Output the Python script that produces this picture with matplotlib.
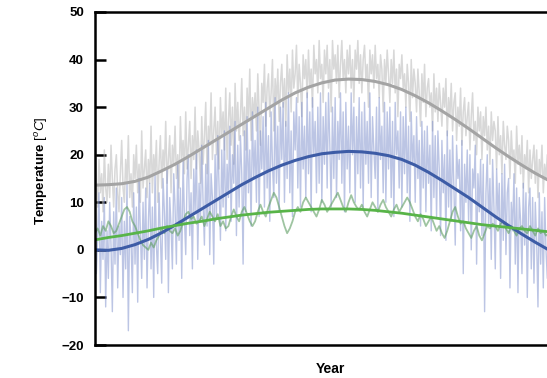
import numpy as np
import matplotlib.pyplot as plt

plt.rcParams['font.family'] = ['Liberation Sans', 'DejaVu Sans']
plt.rcParams['mathtext.fontset'] = 'custom'
plt.rcParams['mathtext.rm'] = 'Liberation Sans'
plt.rcParams['mathtext.it'] = 'Liberation Sans:italic'
plt.rcParams['mathtext.bf'] = 'Liberation Sans:bold'

# daily readings (day 0..364)
days = np.arange(0, 365)

gray_temp = [
    25, 14, 9, 19, 12, 16, 8, 21, 13, 10,
    18, 11, 22, 15, 9, 17, 20, 12, 8, 16,
    23, 13, 10, 19, 14, 24, 11, 16, 9, 20,
    15, 22, 12, 18, 10, 25, 13, 17, 21, 11,
    19, 14, 26, 12, 20, 16, 23, 10, 18, 24,
    13, 21, 17, 27, 14, 19, 24, 12, 22, 18,
    26, 15, 20, 13, 28, 19, 23, 16, 29, 17,
    22, 27, 15, 24, 19, 30, 17, 25, 21, 14,
    28, 18, 24, 31, 16, 26, 22, 33, 19, 25,
    30, 20, 27, 17, 32, 24, 29, 21, 34, 19,
    27, 33, 22, 30, 18, 35, 25, 31, 23, 28,
    36, 24, 30, 21, 34, 27, 38, 23, 32, 28,
    33, 25, 37, 29, 22, 35, 31, 39, 26, 34,
    37, 28, 33, 40, 25, 36, 31, 38, 27, 35,
    39, 30, 36, 26, 41, 33, 38, 29, 42, 34,
    37, 43, 31, 39, 35, 28, 41, 36, 40, 32,
    42, 34, 38, 30, 43, 37, 40, 33, 44, 36,
    39, 31, 42, 37, 43, 34, 40, 29, 44, 38,
    41, 35, 43, 32, 39, 44, 36, 40, 33, 42,
    37, 43, 34, 40, 31, 42, 38, 44, 35, 41,
    33, 40, 43, 36, 39, 30, 42, 37, 41, 34,
    43, 36, 39, 32, 41, 38, 29, 40, 35, 42,
    37, 31, 40, 35, 42, 33, 38, 28, 39, 36,
    41, 34, 37, 30, 39, 35, 27, 40, 32, 38,
    35, 29, 38, 33, 26, 37, 31, 39, 28, 34,
    36, 30, 33, 25, 37, 29, 34, 27, 35, 31,
    26, 34, 30, 36, 24, 32, 28, 35, 25, 31,
    33, 23, 30, 26, 34, 22, 29, 32, 24, 28,
    31, 21, 28, 33, 23, 27, 20, 30, 25, 29,
    19, 28, 24, 30, 21, 26, 18, 29, 23, 27,
    25, 17, 28, 20, 24, 16, 27, 22, 19, 26,
    23, 15, 25, 19, 21, 14, 26, 18, 22, 16,
    24, 13, 20, 17, 23, 12, 21, 15, 19, 22,
    14, 21, 11, 19, 16, 22, 12, 18, 15, 20,
    10, 19, 14, 21, 11, 17, 9, 20, 13, 16,
    18, 10, 15, 8, 19, 12, 17, 9, 14, 11,
    16, 9, 14, 10, 15,
]

blue_temp = [
    9, -5, 3, 12, -9, 6, -2, 11, -12, 4,
    -6, 10, 1, -13, 8, -3, 13, -8, 5, -1,
    11, -10, 6, -4, 14, -17, 7, 2, -9, 12,
    -3, 9, -11, 15, 4, -6, 10, -2, 13, -8,
    6, 14, -4, 9, -10, 16, 1, -5, 12, 3,
    -7, 15, 8, -2, 17, -9, 11, 5, -4, 16,
    9, -3, 18, 2, 13, -6, 19, 7, -1, 15,
    20, 3, 12, -4, 17, 8, 21, -2, 14, 6,
    22, 10, 1, 18, 5, 23, -1, 16, 11, -3,
    20, 7, 24, 13, 2, 21, 9, 25, 4, 18,
    11, 26, 6, 20, 14, 27, 3, 22, 9, 24,
    16, -3, 25, 8, 28, 12, 21, 5, 29, 15,
    23, 10, 30, 7, 25, 17, 28, 9, 31, 13,
    24, 6, 29, 18, 11, 32, 14, 26, 8, 30,
    19, 31, 10, 27, 15, 33, 12, 25, 7, 29,
    21, 32, 13, 28, 9, 31, 17, 26, 11, 33,
    16, 29, 8, 32, 20, 27, 12, 30, 14, 33,
    10, 28, 18, 31, 13, 33, 22, 9, 30, 15,
    32, 11, 27, 19, 33, 14, 29, 8, 31, 17,
    26, 12, 33, 20, 30, 10, 28, 16, 32, 13,
    29, 9, 31, 18, 27, 14, 33, 11, 28, 21,
    15, 30, 8, 32, 19, 26, 12, 31, 10, 29,
    17, 30, 11, 27, 7, 31, 20, 25, 13, 29,
    9, 28, 16, 30, 12, 26, 6, 29, 18, 24,
    10, 28, 15, 23, 5, 27, 13, 25, 8, 26,
    14, 22, 4, 27, 11, 24, 7, 25, 17, 3,
    23, 12, 20, 2, 25, 9, 21, 6, 24, 13,
    1, 22, 15, 19, 4, 23, -5, 18, 10, 21,
    6, 20, 0, 17, 13, 22, -3, 16, 8, 19,
    3, 18, -13, 12, 20, 5, 15, -2, 19, 9,
    -4, 17, 7, 14, -6, 16, 2, 18, -1, 12,
    15, -8, 10, 4, 16, -3, 13, -9, 11, 6,
    -5, 14, 1, 12, -10, 9, 13, -4, 11, -7,
    10, 2, -12, 12, -3, 8, -8, 11, 0, -6,
    9, -10, 5, 10, -4, -13, 8, 3, -9, 7,
    -6, 9, -11, 4, 6, -8, 8, -2, -12, 5,
    -7, 7, -10, 3, 6,
]

# green series, every 2nd day
green_days = np.arange(0, 365, 2)
green_temp = [
    3.5, 4.5, 3, 5, 4, 6, 5, 3.5, 4, 5.5,
    7, 8.5, 9, 8, 6, 5, 3.5, 2, 1, 0.5,
    0, 1.5, 0.5, 2, 3, 4.5, 3.5, 5, 4, 3.5,
    4.5, 3, 4, 6, 7.5, 8, 6.5, 7, 5.5, 6,
    7, 5, 6.5, 8, 7, 6, 7.5, 5, 6, 4.5,
    5, 7, 8.5, 7, 6, 8, 9, 7.5, 6, 5,
    6, 8, 9.5, 8, 7, 9, 10.5, 12, 11, 9,
    7, 5, 3.5, 4.5, 6, 8, 9, 8, 10, 11,
    10, 9, 8, 7, 8.5, 10.5, 9.5, 8, 9, 10,
    11, 12, 10.5, 9, 8, 10, 11.5, 10, 9, 8.5,
    9.5, 8, 7, 8.5, 10, 9, 8, 9.5, 10.5, 9,
    8, 7, 8.5, 9.5, 8, 9, 10, 11, 10, 8.5,
    7, 6, 7.5, 6.5, 5, 6, 7, 5.5, 4, 5,
    3.5, 2.5, 4, 6, 8, 9, 7, 5.5, 6, 4.5,
    3.5, 2.5, 4, 5, 3, 2, 3.5, 5, 4.5, 5.5,
    5, 4, 5.5, 6, 4.5, 3.5, 5, 4, 3, 4.5,
    5, 4, 3.5, 5, 4, 3, 4.5, 3.5, 4, 3,
    3.5, 4, 3, 2.5, 4, 3, 3.5, 2.5, 3, 2,
    3, 2.5, 3,
]

# seasonal fits, read every 10 days
fit_days = np.arange(0, 361, 10)
gray_fit = [13.6, 13.7, 13.9, 14.4, 15.3, 16.6, 18.0, 19.6, 21.3, 23.0,
            24.7, 26.4, 28.1, 29.8, 31.5, 33.0, 34.2, 35.1, 35.7, 35.9,
            35.8, 35.4, 34.7, 33.7, 32.4, 30.9, 29.2, 27.4, 25.5, 23.5,
            21.5, 19.6, 17.8, 16.1, 14.6, 13.2, 12.0]
blue_fit = [0.0, -0.1, 0.3, 1.1, 2.2, 3.6, 5.2, 6.9, 8.6, 10.3,
            12.0, 13.7, 15.2, 16.6, 17.8, 18.8, 19.6, 20.2, 20.5, 20.7,
            20.6, 20.3, 19.8, 19.0, 17.8, 16.3, 14.6, 12.8, 11.0, 9.0,
            7.0, 5.1, 3.3, 1.6, 0.0, -1.5, -2.9]
green_fit = [2.1, 2.6, 3.0, 3.5, 4.0, 4.6, 5.1, 5.6, 6.0, 6.5,
             6.9, 7.3, 7.6, 7.9, 8.1, 8.3, 8.5, 8.6, 8.6, 8.6,
             8.5, 8.3, 8.0, 7.7, 7.3, 6.9, 6.5, 6.1, 5.7, 5.3,
             5.0, 4.7, 4.4, 4.1, 3.8, 3.5, 3.2]

yticks = [-20, -10, 0, 10, 20, 30, 40, 50]

fig = plt.figure(figsize=(5.47, 3.78), dpi=100)
ax = fig.add_axes([95 / 547, 33 / 378, 487 / 547, 333 / 378])

ax.plot(days, gray_temp, color='#b8b8b8', lw=1.1, alpha=0.55)
ax.plot(days, blue_temp, color='#7386c8', lw=1.0, alpha=0.48)
ax.plot(green_days, green_temp, color='#5e9e62', lw=1.3, alpha=0.6)

ax.plot(fit_days, gray_fit, color='#a4a4a4', lw=2.2)
ax.plot(fit_days, blue_fit, color='#3d5ca6', lw=2.2)
ax.plot(fit_days, green_fit, color='#58b448', lw=2)

ax.set_xlim(0, 365)
ax.set_ylim(-20, 50)
ax.set_xticks([])
ax.set_yticks(yticks)
ax.tick_params(axis='y', direction='in', length=8, width=1.8, pad=8, labelsize=9.5)
for lbl in ax.get_yticklabels():
    lbl.set_fontweight('bold')
for sp in ax.spines.values():
    sp.set_linewidth(1.8)

ax.set_ylabel(r'$\mathbf{Temperature}$ $\mathit{[^{o}C]}$', fontsize=9.6)
ax.yaxis.set_label_coords(-0.092, 0.524)
ax.set_xlabel('Year', fontsize=10, fontweight='bold')
ax.xaxis.set_label_coords((330 - 95) / 487, -0.052)

fig.savefig('out.png', dpi=100)
